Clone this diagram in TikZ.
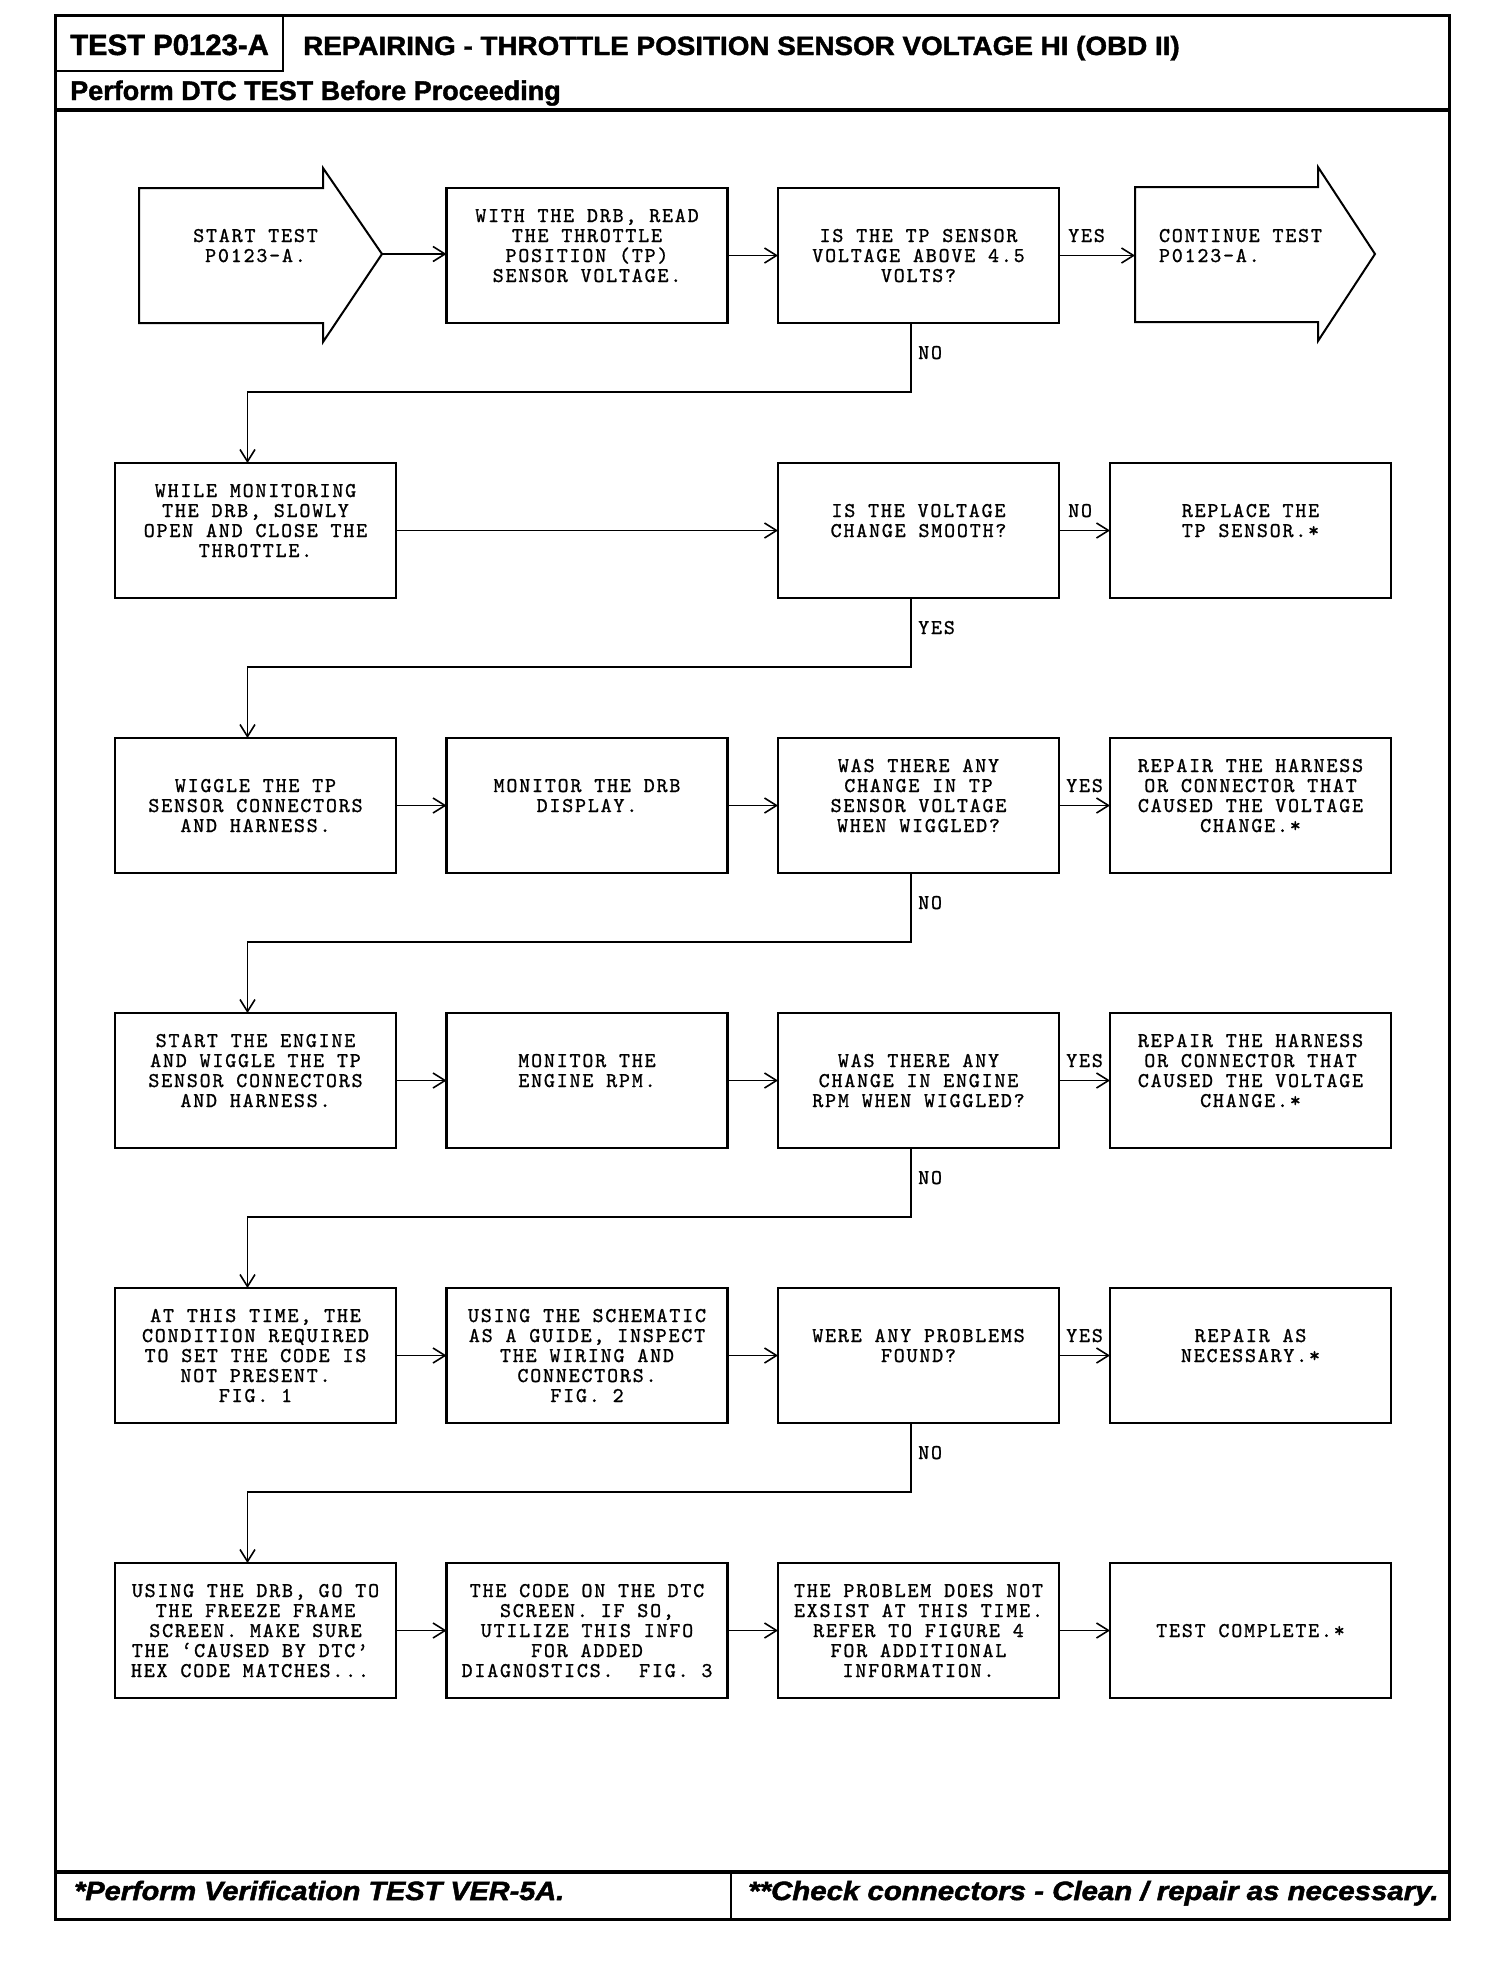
\documentclass[tikz,border=0pt]{standalone}
\usepackage{fontspec}
\setmainfont{Liberation Sans}
\newfontfamily\boxmono{lmmono10-regular.otf}[LetterSpace=8.5,FakeBold=1]
\usetikzlibrary{arrows.meta}
\newcommand\flowtxt[2]{\parbox[c][135pt][t]{281pt}{\centering\vspace*{#1}\strut #2}}
\newcommand\flowtxtl[2]{\parbox[c][135pt][t]{200pt}{\raggedright\vspace*{#1}\strut #2}}
\begin{document}
\begin{tikzpicture}[x=1pt,y=-1pt,
  boxfont/.style={font=\fontsize{21}{20}\boxmono},
  flowbox/.style={boxfont, draw, line width=2.2pt, inner sep=0pt, outer sep=0pt},
  plainbox/.style={boxfont, inner sep=0pt, outer sep=0pt},
  lbl/.style={boxfont, inner sep=0pt, anchor=base west},
  conn/.style={line width=1.6pt, -{Straight Barb[length=12pt,width=15pt]}},
  frameline/.style={line width=3pt},
  hdtext/.style={anchor=base west, inner sep=0pt}]
\useasboundingbox (0,0) rectangle (1504,1966);

% frame
\draw[frameline] (55,15) rectangle (1449,1919);
\draw[line width=2.4pt] (55,71) -- (283,71) -- (283,15);
\draw[line width=3.5pt] (55,110) -- (1449,110);
\draw[line width=3.5pt] (55,1872) -- (1449,1872);
\draw[line width=2pt] (731,1872) -- (731,1919);

% header and footer texts
\node[hdtext, font=\fontsize{29.3}{30}\selectfont\bfseries\addfontfeature{FakeBold=1.5}] (hdtest) at (70,55) {TEST P0123-A};
\node[hdtext, font=\fontsize{26.5}{28}\selectfont\bfseries\addfontfeature{FakeStretch=1.05,FakeBold=1.5}] (hdtitle) at (303,55) {REPAIRING - THROTTLE POSITION SENSOR VOLTAGE HI (OBD II)};
\node[hdtext, font=\fontsize{27}{28}\selectfont\bfseries\addfontfeature{FakeBold=1.5}] (hdperf) at (70,100) {Perform DTC TEST Before Proceeding};
\node[hdtext, font=\fontsize{26.5}{30}\selectfont\bfseries\itshape\addfontfeature{FakeStretch=1.09,FakeBold=1.8}] (ft1) at (74,1900) {*Perform Verification TEST VER-5A.};
\node[hdtext, font=\fontsize{26.5}{30}\selectfont\bfseries\itshape\addfontfeature{FakeStretch=1.11,FakeBold=1.8}] (ft2) at (748,1900) {**Check connectors - Clean / repair as necessary.};

% row 1
\draw[line width=2pt] (139,188) -- (323,188) -- (323,168) -- (382,254) -- (323,342) -- (323,323) -- (139,323) -- cycle;
\coordinate (startTip) at (382,254);
\node[plainbox] (startA) at (255.5,255.5) {\flowtxt{40pt}{START TEST\\P0123-A.}};
\node[flowbox] (r1b) at (587,255.5) {\flowtxt{20pt}{WITH THE DRB, READ\\THE THROTTLE\\POSITION (TP)\\SENSOR VOLTAGE.}};
\node[flowbox] (r1c) at (918.5,255.5) {\flowtxt{40pt}{IS THE TP SENSOR\\VOLTAGE ABOVE 4.5\\VOLTS?}};
\draw[line width=2pt] (1135,187) -- (1318,187) -- (1318,167) -- (1375,254) -- (1318,341) -- (1318,322) -- (1135,322) -- cycle;
\coordinate (contL) at (1135,255.5);
\node[plainbox, anchor=north west] (contA) at (1159,188) {\flowtxtl{40pt}{CONTINUE TEST\\P0123-A.}};

% row 2
\node[flowbox] (r2a) at (255.5,530.5) {\flowtxt{20pt}{WHILE MONITORING\\THE DRB, SLOWLY\\OPEN AND CLOSE THE\\THROTTLE.}};
\node[flowbox] (r2c) at (918.5,530.5) {\flowtxt{40pt}{IS THE VOLTAGE\\CHANGE SMOOTH?}};
\node[flowbox] (r2d) at (1250.5,530.5) {\flowtxt{40pt}{REPLACE THE\\TP SENSOR.*}};

% row 3
\node[flowbox] (r3a) at (255.5,805.5) {\flowtxt{40pt}{WIGGLE THE TP\\SENSOR CONNECTORS\\AND HARNESS.}};
\node[flowbox] (r3b) at (587,805.5) {\flowtxt{40pt}{MONITOR THE DRB\\DISPLAY.}};
\node[flowbox] (r3c) at (918.5,805.5) {\flowtxt{20pt}{WAS THERE ANY\\CHANGE IN TP\\SENSOR VOLTAGE\\WHEN WIGGLED?}};
\node[flowbox] (r3d) at (1250.5,805.5) {\flowtxt{20pt}{REPAIR THE HARNESS\\OR CONNECTOR THAT\\CAUSED THE VOLTAGE\\CHANGE.*}};

% row 4
\node[flowbox] (r4a) at (255.5,1080.5) {\flowtxt{20pt}{START THE ENGINE\\AND WIGGLE THE TP\\SENSOR CONNECTORS\\AND HARNESS.}};
\node[flowbox] (r4b) at (587,1080.5) {\flowtxt{40pt}{MONITOR THE\\ENGINE RPM.}};
\node[flowbox] (r4c) at (918.5,1080.5) {\flowtxt{40pt}{WAS THERE ANY\\CHANGE IN ENGINE\\RPM WHEN WIGGLED?}};
\node[flowbox] (r4d) at (1250.5,1080.5) {\flowtxt{20pt}{REPAIR THE HARNESS\\OR CONNECTOR THAT\\CAUSED THE VOLTAGE\\CHANGE.*}};

% row 5
\node[flowbox] (r5a) at (255.5,1355.5) {\flowtxt{20pt}{AT THIS TIME, THE\\CONDITION REQUIRED\\TO SET THE CODE IS\\NOT PRESENT.\\FIG. 1}};
\node[flowbox] (r5b) at (587,1355.5) {\flowtxt{20pt}{USING THE SCHEMATIC\\AS A GUIDE, INSPECT\\THE WIRING AND\\CONNECTORS.\\FIG. 2}};
\node[flowbox] (r5c) at (918.5,1355.5) {\flowtxt{40pt}{WERE ANY PROBLEMS\\FOUND?}};
\node[flowbox] (r5d) at (1250.5,1355.5) {\flowtxt{40pt}{REPAIR AS\\NECESSARY.*}};

% row 6
\node[flowbox] (r6a) at (255.5,1630.5) {\flowtxt{20pt}{USING THE DRB, GO TO\\THE FREEZE FRAME\\SCREEN. MAKE SURE\\THE ‘CAUSED BY DTC’\hphantom{X}\\HEX CODE MATCHES...\hphantom{X}}};
\node[flowbox] (r6b) at (587,1630.5) {\flowtxt{20pt}{THE CODE ON THE DTC\\SCREEN. IF SO,\\UTILIZE THIS INFO\\FOR ADDED\\DIAGNOSTICS.~~FIG. 3}};
\node[flowbox] (r6c) at (918.5,1630.5) {\flowtxt{20pt}{THE PROBLEM DOES NOT\\EXSIST AT THIS TIME.\\REFER TO FIGURE 4\\FOR ADDITIONAL\\INFORMATION.}};
\node[flowbox] (r6d) at (1250.5,1630.5) {\flowtxt{60pt}{TEST COMPLETE.*}};

% labels
\node[lbl] (yes1) at (1068,242) {YES};
\node[lbl] (no1) at (918,359) {NO};
\node[lbl] (no2) at (1068,517) {NO};
\node[lbl] (yes2) at (918,634) {YES};
\node[lbl] (yes3) at (1066,792) {YES};
\node[lbl] (no3) at (918,909) {NO};
\node[lbl] (yes4) at (1066,1067) {YES};
\node[lbl] (no4) at (918,1184) {NO};
\node[lbl] (yes5) at (1066,1342) {YES};
\node[lbl] (no5) at (918,1459) {NO};

% horizontal connectors
\draw[conn] (startTip) -- (startTip -| r1b.west);
\draw[conn] (r1b.east) -- (r1c.west);
\draw[conn] (r1c.east) -- (contL);
\draw[conn] (r2a.east) -- (r2c.west);
\draw[conn] (r2c.east) -- (r2d.west);
\draw[conn] (r3a.east) -- (r3b.west);
\draw[conn] (r3b.east) -- (r3c.west);
\draw[conn] (r3c.east) -- (r3d.west);
\draw[conn] (r4a.east) -- (r4b.west);
\draw[conn] (r4b.east) -- (r4c.west);
\draw[conn] (r4c.east) -- (r4d.west);
\draw[conn] (r5a.east) -- (r5b.west);
\draw[conn] (r5b.east) -- (r5c.west);
\draw[conn] (r5c.east) -- (r5d.west);
\draw[conn] (r6a.east) -- (r6b.west);
\draw[conn] (r6b.east) -- (r6c.west);
\draw[conn] (r6c.east) -- (r6d.west);

% vertical connectors
\draw[conn] ([xshift=-7.5pt]r1c.south) -- ++(0,69) -| ([xshift=-8pt]r2a.north);
\draw[conn] ([xshift=-7.5pt]r2c.south) -- ++(0,69) -| ([xshift=-8pt]r3a.north);
\draw[conn] ([xshift=-7.5pt]r3c.south) -- ++(0,69) -| ([xshift=-8pt]r4a.north);
\draw[conn] ([xshift=-7.5pt]r4c.south) -- ++(0,69) -| ([xshift=-8pt]r5a.north);
\draw[conn] ([xshift=-7.5pt]r5c.south) -- ++(0,69) -| ([xshift=-8pt]r6a.north);
\end{tikzpicture}
\end{document}
